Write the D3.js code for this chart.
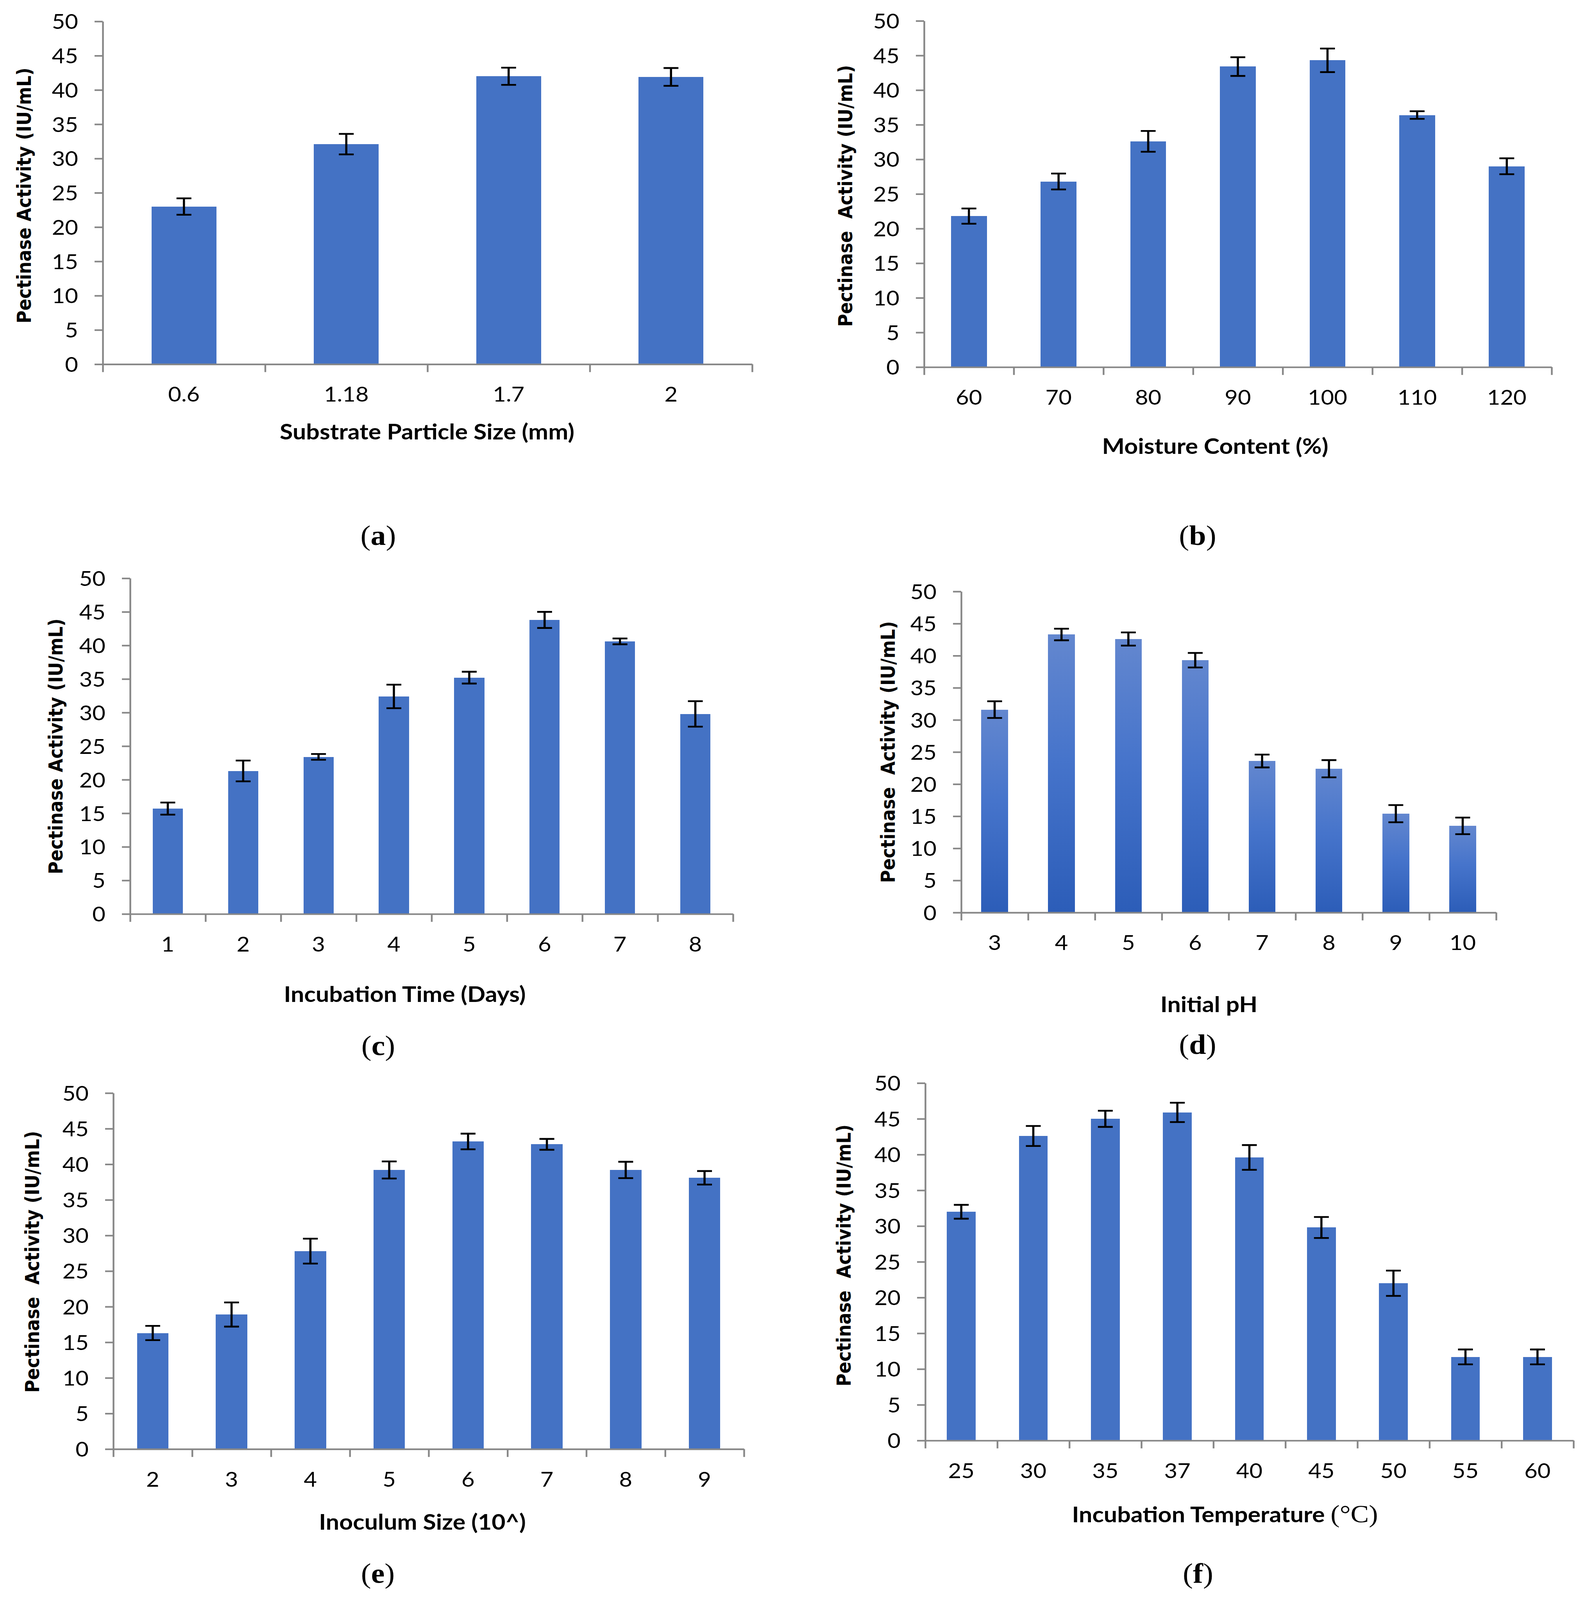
<!DOCTYPE html>
<html>
<head>
<meta charset="utf-8">
<script src="https://cdnjs.cloudflare.com/ajax/libs/d3/7.8.5/d3.min.js"></script>
<style>
  html, body { margin: 0; padding: 0; background: #fff; overflow: hidden; }
  svg { display: block; width: 100vw; height: 100vh; }
  .tick text { font-family: Lato, "Open Sans", sans-serif; fill: #000; }
</style>
</head>
<body>
<div id="figure"></div>
<script>
// Pectinase activity under six culture conditions

// (a) substrate particle size
var sizeLabels = ["0.6", "1.18", "1.7", "2"];
var sizeValues = [23.0, 32.1, 42.0, 41.9];
var sizeErrors = [1.2, 1.5, 1.25, 1.3];

// (b) moisture content
var moistureLabels = ["60", "70", "80", "90", "100", "110", "120"];
var moistureValues = [21.8, 26.8, 32.6, 43.4, 44.3, 36.4, 29.0];
var moistureErrors = [1.1, 1.15, 1.5, 1.35, 1.7, 0.55, 1.15];

// (c) incubation time
var timeLabels = ["1", "2", "3", "4", "5", "6", "7", "8"];
var timeValues = [15.7, 21.3, 23.4, 32.4, 35.2, 43.8, 40.6, 29.8];
var timeErrors = [0.9, 1.55, 0.43, 1.75, 0.88, 1.2, 0.43, 1.9];

// (d) initial pH
var phLabels = ["3", "4", "5", "6", "7", "8", "9", "10"];
var phValues = [31.6, 43.3, 42.6, 39.3, 23.6, 22.4, 15.4, 13.5];
var phErrors = [1.3, 0.9, 1.03, 1.13, 1.0, 1.34, 1.34, 1.29];

// (e) inoculum size
var inoculumLabels = ["2", "3", "4", "5", "6", "7", "8", "9"];
var inoculumValues = [16.3, 18.9, 27.8, 39.2, 43.2, 42.8, 39.2, 38.1];
var inoculumErrors = [1.0, 1.7, 1.75, 1.2, 1.1, 0.76, 1.15, 0.95];

// (f) incubation temperature
var tempLabels = ["25", "30", "35", "37", "40", "45", "50", "55", "60"];
var tempValues = [32.0, 42.6, 45.0, 45.9, 39.6, 29.8, 22.0, 11.7, 11.7];
var tempErrors = [0.97, 1.4, 1.13, 1.35, 1.73, 1.47, 1.77, 1.04, 1.04];

var yTicks = [0, 5, 10, 15, 20, 25, 30, 35, 40, 45, 50];

var W = 4059, H = 4485;
var axisColor = "#878787";
var barColor = "#4472C4";

// layout of each panel (pixels)
var panels = [
  {labels: sizeLabels, values: sizeValues, errors: sizeErrors,
   x0: 263, x1: 1925, yTop: 60, yBot: 1021,
   yTitle: "Pectinase Activity (IU/mL)", yTitleX: 61, yTitleY: 548,
   xTitle: "Substrate Particle Size (mm)", xTitleX: 1093, xTitleY: 1232,
   tag: "a", tagX: 968, tagY: 1527},
  {labels: moistureLabels, values: moistureValues, errors: moistureErrors,
   x0: 2365, x1: 3971, yTop: 58.5, yBot: 1029,
   yTitle: "Pectinase  Activity (IU/mL)", yTitleX: 2163, yTitleY: 549,
   xTitle: "Moisture Content (%)", xTitleX: 3110, xTitleY: 1272,
   tag: "b", tagX: 3065, tagY: 1527},
  {labels: timeLabels, values: timeValues, errors: timeErrors,
   x0: 333, x1: 1876, yTop: 1621, yBot: 2562,
   yTitle: "Pectinase Activity (IU/mL)", yTitleX: 142, yTitleY: 2092,
   xTitle: "Incubation Time (Days)", xTitleX: 1036, xTitleY: 2809,
   tag: "c", tagX: 968, tagY: 2957},
  {labels: phLabels, values: phValues, errors: phErrors,
   x0: 2460, x1: 3829, yTop: 1658, yBot: 2558,
   yTitle: "Pectinase  Activity (IU/mL)", yTitleX: 2272, yTitleY: 2108,
   xTitle: "Initial pH", xTitleX: 3094, xTitleY: 2837,
   tag: "d", tagX: 3065, tagY: 2954, gradient: true},
  {labels: inoculumLabels, values: inoculumValues, errors: inoculumErrors,
   x0: 290, x1: 1904, yTop: 3064, yBot: 4062,
   yTitle: "Pectinase  Activity (IU/mL)", yTitleX: 82, yTitleY: 3537,
   xTitle: "Inoculum Size (10^)", xTitleX: 1081, xTitleY: 4288,
   tag: "e", tagX: 967, tagY: 4437},
  {labels: tempLabels, values: tempValues, errors: tempErrors,
   x0: 2368, x1: 4027, yTop: 3036, yBot: 4038,
   yTitle: "Pectinase  Activity (IU/mL)", yTitleX: 2159, yTitleY: 3519,
   xTitle: "Incubation Temperature ", xUnit: "(°C)", xTitleX: 3135, xTitleY: 4267,
   tag: "f", tagX: 3066, tagY: 4437}
];

// viewBox keeps the whole figure inside the window whatever its inner size
var svg = d3.select("#figure").append("svg")
    .attr("viewBox", "0 0 " + W + " " + H)
    .attr("preserveAspectRatio", "none");

svg.append("rect").attr("width", W).attr("height", H).attr("fill", "#fff");

// gradient used by the pH bars (lighter top, darker bottom)
var grad = svg.append("defs").append("linearGradient")
    .attr("id", "phGrad")
    .attr("x1", 0).attr("y1", 0).attr("x2", 0).attr("y2", 1);
grad.append("stop").attr("offset", "0").attr("stop-color", "#6387cf");
grad.append("stop").attr("offset", "0.45").attr("stop-color", "#4674cb");
grad.append("stop").attr("offset", "1").attr("stop-color", "#2c5db8");

panels.forEach(function (p) {
  var g = svg.append("g");
  var n = p.labels.length;

  // band scale: bar = 40% of each category (gap width 150%)
  var x = d3.scaleBand()
      .domain(p.labels)
      .range([p.x0, p.x1])
      .paddingInner(0.6)
      .paddingOuter(0.3);

  // boundaries between categories, for the tick marks
  var xEdge = d3.scaleLinear().domain([0, n]).range([p.x0, p.x1]);

  var y = d3.scaleLinear().domain([0, 50]).range([p.yBot, p.yTop]);

  // bars
  g.selectAll("rect.bar")
    .data(p.values)
    .enter().append("rect")
      .attr("class", "bar")
      .attr("x", function (d, i) { return x(p.labels[i]); })
      .attr("width", x.bandwidth())
      .attr("y", function (d) { return y(d); })
      .attr("height", function (d) { return y(0) - y(d); })
      .attr("fill", p.gradient ? "url(#phGrad)" : barColor)
      .attr("shape-rendering", "crispEdges");

  // y axis
  var yAxis = g.append("g")
      .attr("transform", "translate(" + p.x0 + ",0)")
      .call(d3.axisLeft(y).tickValues(yTicks).tickSize(21).tickSizeOuter(0).tickPadding(42));
  yAxis.selectAll("path, line").attr("stroke", axisColor).attr("stroke-width", 4.5);
  yAxis.selectAll("text").attr("font-size", 58).attr("dy", "0.36em");

  // x axis line with boundary ticks
  var xAxis = g.append("g")
      .attr("transform", "translate(0," + p.yBot + ")")
      .call(d3.axisBottom(xEdge).tickValues(d3.range(n + 1)).tickSize(22).tickSizeOuter(0).tickFormat(""));
  xAxis.selectAll("path, line").attr("stroke", axisColor).attr("stroke-width", 4.5);

  // category labels at band centres
  var xLab = g.append("g")
      .attr("transform", "translate(0," + p.yBot + ")")
      .call(d3.axisBottom(x).tickSize(0).tickPadding(64));
  xLab.select(".domain").remove();
  xLab.selectAll("text").attr("font-size", 58);

  // error bars
  var cap = 19;
  var eb = g.selectAll("g.err")
    .data(p.values)
    .enter().append("g")
      .attr("class", "err")
      .attr("transform", function (d, i) {
        return "translate(" + (x(p.labels[i]) + x.bandwidth() / 2) + ",0)";
      });
  eb.append("line")
      .attr("y1", function (d, i) { return y(d + p.errors[i]); })
      .attr("y2", function (d, i) { return y(d - p.errors[i]); })
      .attr("stroke", "#000").attr("stroke-width", 5.5);
  eb.append("line")
      .attr("x1", -cap).attr("x2", cap)
      .attr("y1", function (d, i) { return y(d + p.errors[i]); })
      .attr("y2", function (d, i) { return y(d + p.errors[i]); })
      .attr("stroke", "#000").attr("stroke-width", 5);
  eb.append("line")
      .attr("x1", -cap).attr("x2", cap)
      .attr("y1", function (d, i) { return y(d - p.errors[i]); })
      .attr("y2", function (d, i) { return y(d - p.errors[i]); })
      .attr("stroke", "#000").attr("stroke-width", 5);

  // y title
  g.append("text")
      .attr("transform", "translate(" + p.yTitleX + "," + p.yTitleY + ") rotate(-90)")
      .attr("text-anchor", "middle")
      .attr("dy", "0.36em")
      .style("white-space", "pre")
      .attr("font-family", "'DejaVu Sans', Verdana, sans-serif")
      .attr("font-weight", "bold")
      .attr("font-size", 49)
      .text(p.yTitle);

  // x title
  var xt = g.append("text")
      .attr("x", p.xTitleX)
      .attr("y", p.xTitleY)
      .attr("text-anchor", "middle")
      .attr("font-family", "Lato, sans-serif")
      .attr("font-weight", "bold")
      .attr("font-size", 61)
      .style("white-space", "pre");
  xt.append("tspan").text(p.xTitle);
  if (p.xUnit) {
    xt.append("tspan")
      .attr("font-family", "'Liberation Serif', serif")
      .attr("font-weight", "normal")
      .attr("font-size", 70)
      .text(p.xUnit);
  }

  // panel tag (a), (b), ...
  var tg = g.append("text")
      .attr("x", p.tagX)
      .attr("y", p.tagY)
      .attr("text-anchor", "middle")
      .attr("font-family", "'Liberation Serif', 'DejaVu Serif', serif")
      .attr("font-size", 78);
  tg.append("tspan").text("(");
  tg.append("tspan").attr("font-weight", "bold").text(p.tag);
  tg.append("tspan").text(")");
});
</script>
</body>
</html>
